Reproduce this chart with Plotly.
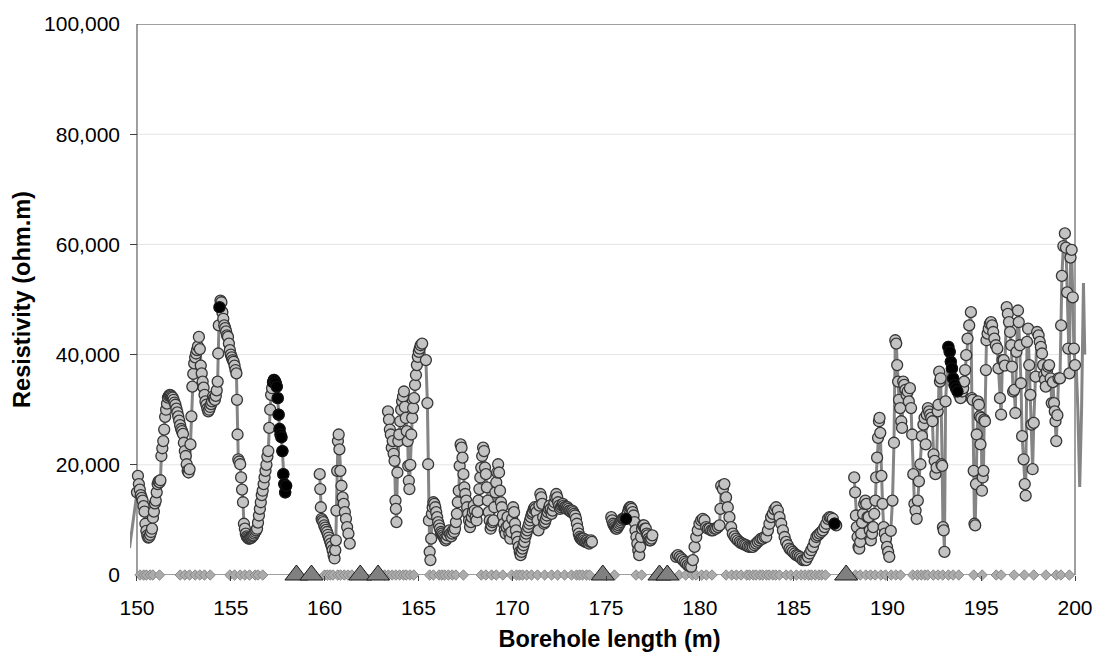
import plotly.graph_objects as go

# ---------------- data (ohm.m vs borehole length in m) ----------------
lead_depth = [149.60, 149.95]
lead_res = [4900, 13800]

seg1_depth = [150.00, 150.05, 150.10, 150.15, 150.20, 150.25, 150.30, 150.35, 150.40, 150.45,
              150.50, 150.55, 150.60, 150.65, 150.70, 150.75, 150.80, 150.85, 150.90, 150.95,
              151.00, 151.05, 151.10, 151.15, 151.20, 151.25, 151.30, 151.35, 151.40, 151.45,
              151.50, 151.55, 151.60, 151.65, 151.70, 151.75, 151.80, 151.85, 151.90, 151.95,
              152.00, 152.05, 152.10, 152.15, 152.20, 152.25, 152.30, 152.35, 152.40, 152.45,
              152.50, 152.55, 152.60, 152.65, 152.70, 152.75, 152.80, 152.85, 152.90, 152.95,
              153.00, 153.05, 153.10, 153.15, 153.20, 153.25, 153.30, 153.35, 153.40, 153.45,
              153.50, 153.55, 153.60, 153.65, 153.70, 153.75, 153.80, 153.85, 153.90, 153.95,
              154.00, 154.05, 154.10, 154.15, 154.20, 154.25, 154.30, 154.33, 154.36, 154.40,
              154.45, 154.50, 154.55, 154.60, 154.65, 154.70, 154.75, 154.80, 154.85, 154.90,
              154.95, 155.00, 155.05, 155.10, 155.15, 155.20, 155.25, 155.30, 155.33, 155.36,
              155.40, 155.45, 155.50, 155.55, 155.60, 155.65, 155.70, 155.75, 155.80, 155.85,
              155.90, 155.95, 156.00, 156.05, 156.10, 156.15, 156.20, 156.25, 156.30, 156.35,
              156.40, 156.45, 156.50, 156.55, 156.60, 156.65, 156.70, 156.75, 156.80, 156.85,
              156.90, 156.95, 157.00, 157.05, 157.10, 157.15, 157.20, 157.25, 157.30, 157.35,
              157.40, 157.45, 157.50, 157.55, 157.60, 157.65, 157.70, 157.75, 157.80, 157.85,
              157.90, 157.95]
seg1_res = [15000, 18000, 16500, 15500, 14500, 14000, 13500, 12500, 11500, 9300,
            8000, 7200, 6800, 6900, 7300, 7800, 8400, 10400, 11500, 13000,
            13500, 15000, 16500, 17000, 16800, 17200, 21600, 23000, 24300, 26400,
            28700, 30000, 31100, 32200, 32500, 32700, 32600, 32400, 32200, 31800,
            31300, 30900, 30200, 29500, 28800, 28000, 27200, 26500, 26100, 25600,
            24000, 22500, 21600, 20100, 18900, 18600, 19200, 23700, 28800, 34200,
            36500, 38400, 39500, 40200, 40800, 41500, 43200, 41000, 38000, 36600,
            35100, 34000, 32700, 31500, 30900, 30200, 29700, 30000, 30500, 31000,
            31500, 32400, 32000, 31800, 32500, 33500, 35100, 40200, 45300, 48600,
            49800, 49500, 47700, 46500, 45300, 44800, 44200, 43500, 43200, 42000,
            40800, 40000, 39500, 39000, 38700, 38000, 37200, 36600, 31800, 25500,
            21000, 20600, 20100, 17700, 15500, 13200, 9300, 8400, 7500, 7000,
            6800, 6600, 6600, 6700, 6800, 7000, 7200, 7500, 7800, 8100,
            8400, 9500, 10800, 12000, 13200, 14500, 15300, 16500, 17700, 18900,
            20000, 21500, 22500, 26700, 30000, 32700, 33900, 35000, 35400, 35200,
            34800, 34200, 32100, 29100, 26500, 25500, 25000, 22500, 18300, 16500,
            15000, 16200]

seg2_depth = [159.74, 159.77, 159.80, 159.84, 159.88, 159.93, 159.98, 160.03, 160.08, 160.13,
              160.18, 160.23, 160.28, 160.33, 160.38, 160.43, 160.48, 160.53, 160.57, 160.60,
              160.63, 160.67, 160.71, 160.75, 160.79, 160.84, 160.90, 160.96, 161.02, 161.08,
              161.14, 161.20, 161.27, 161.34]
seg2_res = [18300, 15600, 12300, 10200, 9900, 9600, 9000, 8600, 8200, 7800,
            7300, 6800, 6300, 5700, 5200, 4500, 3600, 3000, 4500, 6300,
            11700, 18900, 24300, 25500, 22800, 18900, 16200, 14100, 12900, 11400,
            10200, 8700, 7500, 5700]

seg3_depth = [163.38, 163.43, 163.48, 163.53, 163.58, 163.63, 163.68, 163.73, 163.78, 163.80,
              163.83, 163.88, 163.93, 163.98, 164.03, 164.08, 164.13, 164.18, 164.23, 164.28,
              164.33, 164.38, 164.43, 164.46, 164.49, 164.52, 164.57, 164.62, 164.67, 164.72,
              164.77, 164.82, 164.87, 164.92, 164.97, 165.02, 165.07, 165.12, 165.20, 165.40,
              165.48, 165.52, 165.56, 165.60, 165.64, 165.68, 165.72, 165.76, 165.80, 165.85,
              165.90, 165.95, 166.00, 166.05, 166.10, 166.15, 166.20, 166.25, 166.30, 166.35,
              166.40, 166.45, 166.50, 166.55, 166.60, 166.65, 166.70, 166.75, 166.80, 166.85,
              166.90, 166.95, 167.00, 167.05, 167.10, 167.15, 167.20, 167.25, 167.30, 167.35,
              167.40, 167.45, 167.50, 167.55, 167.60, 167.65, 167.70, 167.75, 167.80, 167.85,
              167.90, 167.95, 168.00, 168.05, 168.10, 168.15, 168.20, 168.25, 168.30, 168.35,
              168.40, 168.45, 168.50, 168.55, 168.60, 168.65, 168.70, 168.75, 168.80, 168.85,
              168.90, 168.95, 169.00, 169.05, 169.10, 169.15, 169.20, 169.25, 169.30, 169.35,
              169.40, 169.45, 169.50, 169.55, 169.60, 169.65, 169.70, 169.75, 169.80, 169.85,
              169.90, 169.95, 170.00, 170.05, 170.10, 170.15, 170.20, 170.25, 170.30, 170.35,
              170.40, 170.45, 170.50, 170.55, 170.60, 170.65, 170.70, 170.75, 170.80, 170.85,
              170.90, 170.95, 171.00, 171.05, 171.10, 171.15, 171.20, 171.25, 171.30, 171.35,
              171.40, 171.45, 171.50, 171.55, 171.60, 171.65, 171.70, 171.75, 171.80, 171.85,
              171.90, 171.95, 172.00, 172.05, 172.10, 172.15, 172.20, 172.25, 172.30, 172.35,
              172.40, 172.45, 172.50, 172.55, 172.60, 172.65, 172.70, 172.75, 172.80, 172.85,
              172.90, 172.95, 173.00, 173.05, 173.10, 173.15, 173.20, 173.25, 173.30, 173.35,
              173.40, 173.45, 173.50, 173.55, 173.60, 173.65, 173.70, 173.75, 173.80, 173.85,
              173.90, 173.95, 174.00, 174.05, 174.10, 174.15, 174.20, 174.25]
seg3_res = [29700, 28200, 26400, 25500, 23100, 24300, 22000, 20700, 13500, 12000,
            9600, 18600, 24300, 25500, 27900, 30000, 31500, 32400, 33300, 30500,
            28500, 26100, 24300, 19800, 17100, 15600, 20000, 25500, 28500, 30300,
            32100, 34500, 36300, 38100, 39600, 40500, 41100, 41700, 42000, 39000,
            31200, 20100, 9900, 4200, 2700, 6600, 11100, 12300, 13200, 12900,
            12300, 11400, 10500, 9600, 9000, 8400, 7800, 7500, 7200, 6900,
            6600, 6300, 6600, 7200, 7800, 8100, 7500, 7000, 7500, 8100,
            7800, 8400, 9600, 11100, 13200, 15300, 19800, 23700, 23100, 21300,
            18300, 15900, 14700, 13500, 12300, 11100, 9900, 8700, 9600, 10500,
            11400, 12600, 11700, 10500, 9900, 11400, 13500, 15600, 17700, 19500,
            21600, 23100, 22500, 19500, 18300, 15900, 13500, 11400, 9900, 8400,
            9000, 9600, 9900, 12300, 15000, 16800, 18600, 20100, 18600, 15300,
            13200, 12300, 10800, 9300, 8100, 7500, 8700, 10500, 9000, 7500,
            6600, 7800, 10200, 12300, 11400, 9300, 8100, 6900, 6000, 5100,
            4200, 3600, 4200, 4800, 5400, 6000, 6900, 7500, 8100, 8700,
            9300, 9900, 10500, 11100, 11400, 12000, 12300, 12000, 11400, 9900,
            8100, 12600, 14700, 14100, 12900, 10500, 9300, 9600, 10200, 10800,
            11400, 12000, 12600, 12000, 11100, 11700, 12600, 13200, 14100, 14700,
            14100, 13200, 12600, 12000, 12300, 12600, 12900, 12600, 12300, 12300,
            12000, 12300, 12000, 11700, 11700, 11400, 11700, 11400, 11100, 10800,
            10200, 9300, 8400, 7500, 6900, 6600, 6600, 6300, 6600, 6300,
            6000, 6000, 6300, 6000, 5700, 6000, 6300, 6000]

seg4_depth = [175.28, 175.33, 175.38, 175.43, 175.48, 175.53, 175.58, 175.63, 175.68, 175.73,
              175.78, 175.83, 175.88, 175.93, 175.98, 176.03, 176.07, 176.12, 176.17, 176.22,
              176.27, 176.32, 176.37, 176.42, 176.47, 176.52, 176.57, 176.62, 176.67, 176.72,
              176.77, 176.82, 176.87, 176.92, 176.97, 177.02, 177.07, 177.12, 177.17, 177.22,
              177.27, 177.32, 177.37, 177.42, 177.47]
seg4_res = [10500, 9900, 9300, 9000, 8700, 8400, 8400, 8700, 9000, 9300,
            9600, 9900, 10200, 10200, 10200, 10500, 10200, 10800, 11400, 12000,
            12300, 12300, 12000, 11400, 10800, 9600, 8100, 6900, 5700, 4500,
            3600, 5100, 6900, 8400, 9000, 9000, 8400, 8400, 7500, 7200,
            6600, 6300, 6300, 6600, 7200]

seg5_depth = [178.74, 178.83, 178.92, 179.01, 179.10, 179.19, 179.27, 179.36, 179.45, 179.54,
              179.63, 179.72, 179.81, 179.89, 179.98, 180.07, 180.16, 180.25, 180.34, 180.43,
              180.52, 180.61, 180.70, 180.78, 180.87, 180.96, 181.05, 181.10, 181.14, 181.23,
              181.31, 181.40, 181.49, 181.58, 181.67, 181.76, 181.85, 181.94, 182.03, 182.12,
              182.20, 182.29, 182.38, 182.47, 182.56, 182.65, 182.74, 182.83, 182.92, 183.00,
              183.09, 183.18, 183.27, 183.36, 183.45, 183.54, 183.63, 183.71, 183.80, 183.89,
              183.98, 184.07, 184.16, 184.25, 184.34, 184.43, 184.52, 184.60, 184.69, 184.78,
              184.87, 184.96, 185.05, 185.14, 185.23, 185.32, 185.40, 185.49, 185.58, 185.67,
              185.76, 185.85, 185.94, 186.03, 186.12, 186.21, 186.29, 186.38, 186.47, 186.56,
              186.65, 186.74, 186.83, 186.92, 187.00, 187.09, 187.18, 187.27]
seg5_res = [3300, 3600, 3300, 3000, 2700, 2400, 2100, 1800, 1600, 1500,
            2700, 5100, 6900, 8100, 9300, 9900, 10200, 9900, 8700, 8400,
            8400, 8100, 8100, 8400, 8400, 8700, 9000, 12000, 16200, 15600,
            16500, 14100, 12300, 10500, 8700, 7500, 7000, 6600, 6300, 6000,
            5800, 5700, 5500, 5400, 5200, 5100, 5100, 5100, 5400, 5700,
            6000, 6300, 6600, 6600, 6900, 6900, 8100, 9300, 10500, 11100,
            11900, 12300, 11700, 10500, 9300, 8100, 6900, 6000, 5400, 4800,
            4500, 4200, 3900, 3600, 3500, 3300, 3000, 2700, 2700, 2700,
            3300, 3900, 4500, 5100, 6000, 6900, 7200, 7500, 7800, 8100,
            8700, 9300, 10200, 10500, 10400, 10200, 9300, 9000]

seg6_depth = [188.23, 188.28, 188.32, 188.37, 188.41, 188.46, 188.50, 188.55, 188.60, 188.65,
              188.70, 188.76, 188.82, 188.88, 188.94, 189.00, 189.06, 189.12, 189.18, 189.24,
              189.30, 189.36, 189.40, 189.45, 189.50, 189.55, 189.58, 189.62, 189.68, 189.74,
              189.80, 189.86, 189.92, 189.98, 190.04, 190.10, 190.18, 190.27, 190.35, 190.42,
              190.47, 190.52, 190.57, 190.62, 190.68, 190.74, 190.78, 190.84, 190.90, 190.96,
              191.02, 191.08, 191.14, 191.20, 191.26, 191.32, 191.38, 191.44, 191.50, 191.56,
              191.62, 191.68, 191.76, 191.84, 191.92, 191.98, 192.04, 192.10, 192.16, 192.22,
              192.28, 192.34, 192.40, 192.46, 192.52, 192.56, 192.62, 192.68, 192.72, 192.76,
              192.80, 192.84, 192.88, 192.92, 192.96, 193.00, 193.04, 193.10, 193.25, 193.32,
              193.38, 193.44, 193.50, 193.58, 193.66, 193.74, 193.82, 193.90, 193.98, 194.04,
              194.09, 194.14, 194.20, 194.27, 194.36, 194.45, 194.50, 194.55, 194.60, 194.64,
              194.68, 194.72, 194.76, 194.82, 194.88, 194.92, 194.96, 195.00, 195.04, 195.08,
              195.12, 195.16, 195.20, 195.25, 195.28, 195.34, 195.40, 195.46, 195.52, 195.58,
              195.64, 195.70, 195.78, 195.86, 195.92, 196.00, 196.06, 196.13, 196.20, 196.26,
              196.36, 196.42, 196.48, 196.54, 196.60, 196.64, 196.70, 196.76, 196.82, 196.88,
              196.96, 197.00, 197.06, 197.12, 197.18, 197.26, 197.32, 197.37, 197.44, 197.50,
              197.56, 197.62, 197.68, 197.74, 197.80, 197.90, 197.98, 198.06, 198.12, 198.18,
              198.24, 198.30, 198.36, 198.40, 198.44, 198.50, 198.56, 198.62, 198.70, 198.76,
              198.82, 198.88, 198.92, 198.96, 199.00, 199.06, 199.12, 199.20, 199.26, 199.30,
              199.38, 199.46, 199.52, 199.58, 199.64, 199.70, 199.76, 199.82, 199.88, 199.94,
              200.00]
seg6_res = [17700, 15000, 10800, 8700, 6900, 5100, 4800, 6000, 7500, 9500,
            11100, 12900, 13500, 12900, 10500, 10500, 8100, 6300, 7500, 8700,
            11100, 13500, 17700, 21300, 24900, 27900, 28500, 25800, 18000, 12900,
            8700, 7500, 6600, 5100, 4200, 3300, 8000, 13500, 24000, 42600,
            42000, 38100, 35100, 31800, 30300, 27900, 26700, 35100, 34500, 33600,
            32700, 33300, 31500, 33900, 30300, 25500, 18300, 12900, 11700, 10200,
            13500, 17000, 20100, 25200, 27300, 28500, 23700, 29100, 30300, 29700,
            29100, 28500, 27900, 21900, 20700, 18300, 19500, 29700, 30900, 36900,
            35100, 35700, 20100, 19800, 8700, 8100, 4200, 31500, 41400, 40500,
            38700, 37500, 35700, 34500, 33900, 33300, 32700, 32100, 33300, 33900,
            35100, 37200, 39900, 42900, 45300, 47700, 32100, 31800, 18900, 9300,
            9000, 16500, 25500, 31500, 30900, 28800, 23700, 28500, 15300, 17700,
            18900, 28200, 27900, 37200, 42600, 43800, 44700, 45600, 45900, 45300,
            44100, 42900, 41700, 41100, 37500, 32100, 29100, 39000, 39000, 38000,
            48600, 47400, 45900, 44100, 41700, 37800, 33300, 33600, 29400, 40500,
            48000, 45900, 41700, 34800, 25200, 21000, 16500, 14400, 42300, 44700,
            38100, 32700, 27300, 19200, 27600, 36000, 44100, 43500, 42300, 41400,
            40200, 38100, 36300, 35400, 34200, 36900, 37800, 38100, 35700, 31200,
            35000, 31200, 29700, 27900, 24300, 29000, 35700, 35700, 45300, 54300,
            59700, 62000, 59400, 51300, 41100, 36600, 57600, 59000, 50400, 41100,
            38100]

tail_depth = [200.06, 200.15, 200.25, 200.35, 200.45, 200.52]
tail_res = [38500, 30000, 16000, 30000, 53000, 40000]

# highlighted (black) readings
black_depth = [154.40, 157.25, 157.30, 157.35, 157.40, 157.45, 157.50, 157.55, 157.60, 157.65,
               157.70, 157.75, 157.80, 157.85, 157.90, 157.95, 176.07, 187.18, 193.25, 193.32,
               193.38, 193.44, 193.50, 193.58, 193.66, 193.74]
black_res = [48600, 35000, 35400, 35200, 34800, 34200, 32100, 29100, 26500, 25500,
             25000, 22500, 18300, 16500, 15000, 16200, 10200, 9300, 41400, 40500,
             38700, 37500, 35700, 34500, 33900, 33300]

# diamonds on the axis
diamond_depth = [150.16, 150.35, 150.50, 150.70, 150.85, 151.20,
                 152.30, 152.55, 152.80, 153.10, 153.35, 153.60, 153.90,
                 154.95, 155.20, 155.50, 155.75, 156.00, 156.30, 156.45, 156.70,
                 160.00, 160.15, 160.30, 160.45, 160.70, 160.85, 161.05, 161.25, 161.45,
                 163.20, 163.40, 163.60, 163.80, 164.00, 164.20, 164.35, 164.55, 164.75,
                 165.60, 165.80, 166.10, 166.25, 166.40, 166.60, 166.80, 167.00, 167.40,
                 168.35, 168.60, 168.90, 169.15, 169.50, 169.97, 170.23, 170.39, 170.55,
                 170.77, 171.03, 171.35, 171.73, 172.10, 172.42, 172.79, 173.16, 173.43,
                 173.59, 173.75, 173.96, 174.12, 175.45, 176.60, 176.90, 177.70,
                 178.90, 179.25, 179.60, 179.80, 180.10, 180.35, 180.65,
                 181.40, 181.70, 181.95, 182.20, 182.50, 182.65, 182.85, 183.00, 183.20,
                 183.35, 183.55, 183.70, 183.90, 184.05, 184.25, 184.60, 184.85, 185.15,
                 185.40, 185.60, 185.80, 185.95, 186.15, 186.35, 186.50, 186.70,
                 188.30, 188.55, 188.85, 189.10, 189.35, 189.65, 189.90, 190.20, 190.45, 190.70,
                 191.35, 191.60, 191.80, 192.00, 192.15, 192.45, 192.70, 192.95, 193.25,
                 193.50, 193.80, 194.60, 195.05, 195.80, 196.06, 196.75, 197.30, 197.80,
                 198.45, 199.00, 199.25, 199.70]

triangle_depth = [158.50, 159.30, 161.90, 162.85, 174.83, 177.85, 178.27, 187.80]

x_ticks = [150, 155, 160, 165, 170, 175, 180, 185, 190, 195, 200]
y_ticks = [0, 20000, 40000, 60000, 80000, 100000]

# ---------------- assemble ----------------
segments = [(seg1_depth, seg1_res), (seg2_depth, seg2_res), (seg3_depth, seg3_res),
            (seg4_depth, seg4_res), (seg5_depth, seg5_res), (seg6_depth, seg6_res)]

line_x = list(lead_depth)
line_y = list(lead_res)
mark_x, mark_y = [], []
for i, (d, r) in enumerate(segments):
    if i > 0:
        line_x.append(None)
        line_y.append(None)
    line_x += d
    line_y += r
    mark_x += d
    mark_y += r
line_x += tail_depth
line_y += tail_res

FONT = "Liberation Sans, Arial, sans-serif"
PX_PER_M = 939 / 50.0
x_lo = 150 - 7 / PX_PER_M
x_hi = x_lo + 960 / PX_PER_M

fig = go.Figure()
fig.add_trace(go.Scatter(x=diamond_depth, y=[0] * len(diamond_depth), mode="markers",
                         marker=dict(symbol="diamond", size=8, color="#ababab",
                                     line=dict(color="#8a8a8a", width=1)),
                         cliponaxis=False, hoverinfo="skip"))
fig.add_trace(go.Scatter(x=triangle_depth, y=[0] * len(triangle_depth), mode="markers",
                         marker=dict(symbol="triangle-up", size=20, color="#808080",
                                     line=dict(color="#1a1a1a", width=1)),
                         cliponaxis=False, hoverinfo="skip"))
fig.add_trace(go.Scatter(x=line_x, y=line_y, mode="lines",
                         line=dict(color="#858585", width=3), connectgaps=False,
                         hoverinfo="skip"))
fig.add_trace(go.Scatter(x=mark_x, y=mark_y, mode="markers",
                         marker=dict(symbol="circle", size=11, color="#c3c3c3",
                                     line=dict(color="#363636", width=1.3)),
                         cliponaxis=False))
fig.add_trace(go.Scatter(x=black_depth, y=black_res, mode="markers",
                         marker=dict(symbol="circle", size=11, color="#000000",
                                     line=dict(color="#111111", width=1.3)),
                         cliponaxis=False))

shapes = []
for v in y_ticks[1:-1]:
    shapes.append(dict(type="line", xref="x", yref="y", x0=150, x1=200, y0=v, y1=v,
                       line=dict(color="#e4e4e4", width=1), layer="below"))
shapes.append(dict(type="rect", xref="x", yref="y", x0=150, x1=200, y0=0, y1=100000,
                   line=dict(color="#404040", width=1), layer="below"))

fig.update_layout(
    width=1105, height=664,
    margin=dict(l=130, r=15, t=18, b=89),
    paper_bgcolor="white", plot_bgcolor="white",
    showlegend=False,
    font=dict(family=FONT, color="#000000"),
    shapes=shapes,
    xaxis=dict(range=[x_lo, x_hi], tickvals=x_ticks, ticktext=[str(t) for t in x_ticks],
               ticks="outside", ticklen=5, tickcolor="#404040", tickwidth=1,
               ticklabelstandoff=9,
               showline=False, showgrid=False, zeroline=False,
               tickfont=dict(size=21, family=FONT),
               title=dict(text="Borehole length (m)", standoff=12,
                          font=dict(size=23.5, family=FONT, weight="bold"))),
    yaxis=dict(range=[0, 100000], tickvals=y_ticks, tickformat=",",
               ticks="inside", ticklen=7, tickcolor="#404040", tickwidth=1,
               ticklabelstandoff=9,
               showline=False, showgrid=False, zeroline=False,
               tickfont=dict(size=21, family=FONT),
               title=dict(text="Resistivity (ohm.m)", standoff=6,
                          font=dict(size=23.5, family=FONT, weight="bold"))),
)

fig.write_html("out.html")
